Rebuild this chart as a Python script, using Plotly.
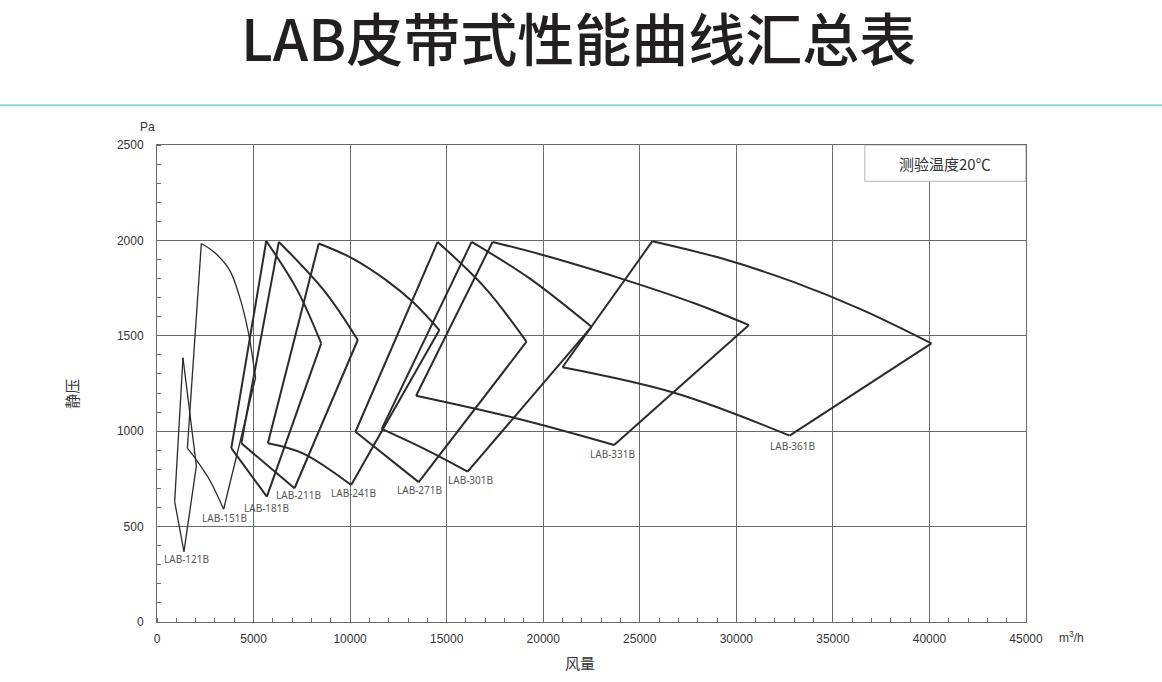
import plotly.graph_objects as go

# ---- data (flow m3/h, static pressure Pa); None separates the edges of each fan envelope ----
models = ["LAB-121B", "LAB-151B", "LAB-181B", "LAB-211B", "LAB-241B",
          "LAB-271B", "LAB-301B", "LAB-331B", "LAB-361B"]

lab121_x = [1345, 915, None, 915, 1396, None, 1396, 2038, None, 2038, 1345]
lab121_y = [1385, 631, None, 631, 369, None, 369, 818, None, 818, 1385]

lab151_x = [2296, 3000, 3760, 4277, 4707, 5105, None, 5105, 3450, None, 3450, 2726, 2038, 1572, None, 1572, 2296]
lab151_y = [1984, 1935, 1844, 1704, 1530, 1279, None, 1279, 591, None, 591, 744, 849, 911, None, 911, 1984]

lab181_x = [5658, 7251, 8503, None, 8503, 5689, None, 5689, 3848, None, 3848, 5658]
lab181_y = [1997, 1742, 1460, None, 1460, 657, None, 657, 911, None, 911, 1997]

lab211_x = [6310, 8673, 10396, None, 10396, 7122, None, 7122, 4365, None, 4365, 6310]
lab211_y = [1992, 1734, 1478, None, 1478, 701, None, 701, 937, None, 937, 1992]

lab241_x = [8378, 10137, 11865, 13240, 14622, None, 14622, 10054, None, 10054, 7551, 5741, None, 5741, 8378]
lab241_y = [1984, 1905, 1792, 1678, 1530, None, 1530, 718, None, 718, 884, 937, None, 937, 1984]

lab271_x = [14533, 17000, 19136, None, 19136, 13551, None, 13551, 10277, None, 10277, 14533]
lab271_y = [1992, 1750, 1469, None, 1469, 733, None, 733, 997, None, 997, 1992]

lab301_x = [16292, 19276, 22498, None, 22498, 16085, None, 16085, 13845, 11637, None, 11637, 16292]
lab301_y = [1992, 1802, 1547, None, 1547, 788, None, 788, 907, 1012, None, 1012, 1992]

lab331_x = [17378, 20309, 24277, 27900, 30654, None, 30654, 23672, None, 23672, 18588, 13416, None, 13416, 17378]
lab331_y = [1992, 1914, 1792, 1668, 1556, None, 1556, 928, None, 928, 1068, 1186, None, 1186, 1992]

lab361_x = [25653, 29268, 32878, 36488, 40104, None, 40104, 32759, None, 32759, 26863, 20998, None, 20998, 25653]
lab361_y = [1996, 1905, 1785, 1637, 1460, None, 1460, 977, None, 977, 1199, 1335, None, 1335, 1996]

series_x = [lab121_x, lab151_x, lab181_x, lab211_x, lab241_x, lab271_x, lab301_x, lab331_x, lab361_x]
series_y = [lab121_y, lab151_y, lab181_y, lab211_y, lab241_y, lab271_y, lab301_y, lab331_y, lab361_y]

label_x = [1546, 3511, 5684, 7329, 10173, 13587, 16225, 23569, 32930]
label_y = [332, 546, 599, 666, 677, 692, 745, 881, 923]

x_ticks = [0, 5000, 10000, 15000, 20000, 25000, 30000, 35000, 40000, 45000]
y_ticks = [0, 500, 1000, 1500, 2000, 2500]

# ---- figure ----
fig = go.Figure()
for i, name in enumerate(models):
    fig.add_trace(go.Scatter(
        x=series_x[i], y=series_y[i], mode="lines", name=name,
        line=dict(color="#2b2b2b", width=1.3 if i < 2 else 2.0, shape="spline", smoothing=1.0),
        connectgaps=False, hoverinfo="skip", showlegend=False,
    ))

for i, name in enumerate(models):
    fig.add_annotation(x=label_x[i], y=label_y[i], text=name, showarrow=False,
                       font=dict(family="Noto Sans, Open Sans, sans-serif", size=10, color="#555555"),
                       xanchor="center", yanchor="middle")

grid_col = "#6a6a6a"
fig.update_xaxes(range=[0, 45000], tickvals=x_ticks, ticktext=[str(v) for v in x_ticks],
                 showgrid=True, gridcolor=grid_col, gridwidth=1, zeroline=False,
                 showline=True, linecolor=grid_col, linewidth=1, mirror=True,
                 ticks="", ticklabelstandoff=6,
                 tickfont=dict(family="Liberation Sans, Arial, sans-serif", size=12, color="#333333"),
                 minor=dict(dtick=1000, ticks="inside", ticklen=4, tickcolor=grid_col, showgrid=False))
fig.update_yaxes(range=[0, 2500], tickvals=y_ticks, ticktext=[str(v) for v in y_ticks],
                 showgrid=True, gridcolor=grid_col, gridwidth=1, zeroline=False,
                 showline=True, linecolor=grid_col, linewidth=1, mirror=True,
                 ticks="", ticklabelstandoff=10,
                 tickfont=dict(family="Liberation Sans, Arial, sans-serif", size=12, color="#333333"),
                 minor=dict(dtick=100, ticks="inside", ticklen=4, tickcolor=grid_col, showgrid=False))

# temperature box
fig.add_shape(type="rect", xref="x", yref="y", x0=36654, x1=45000, y0=2310, y1=2500,
              fillcolor="white", line=dict(color="#b5b5b5", width=1), layer="above")
fig.add_annotation(x=40827, y=2405, xref="x", yref="y", text="测验温度20℃", showarrow=False,
                   xanchor="center", yanchor="middle",
                   font=dict(family="Noto Sans CJK SC", size=15, color="#333333"))

# unit labels and axis titles
fig.add_annotation(xref="paper", yref="paper", x=-0.0107, y=1.037, text="Pa", showarrow=False,
                   xanchor="center", yanchor="middle",
                   font=dict(family="Liberation Sans, Arial, sans-serif", size=12, color="#333333"))
fig.add_annotation(xref="paper", yref="paper", x=1.036, y=-0.031, text="m<sup>3</sup>/h", showarrow=False,
                   xanchor="left", yanchor="middle",
                   font=dict(family="Liberation Sans, Arial, sans-serif", size=12, color="#333333"))
fig.add_annotation(xref="paper", yref="paper", x=-0.098, y=0.478, text="静压", showarrow=False, textangle=-90,
                   xanchor="center", yanchor="middle",
                   font=dict(family="Noto Sans CJK SC", size=15, color="#333333"))
fig.add_annotation(xref="paper", yref="paper", x=0.4866, y=-0.0854, text="风量", showarrow=False,
                   xanchor="center", yanchor="middle",
                   font=dict(family="Noto Sans CJK SC", size=15, color="#333333"))

# teal separator line under the title
fig.add_shape(type="line", xref="paper", yref="paper", x0=-0.2, x1=1.2, y0=1.0835, y1=1.0835,
              line=dict(color="#8fd1d3", width=2))

fig.update_layout(
    width=1162, height=682,
    margin=dict(l=157, r=136, t=145, b=60, autoexpand=False),
    paper_bgcolor="white", plot_bgcolor="white",
    title=dict(text="LAB皮带式性能曲线汇总表", x=0.498, xanchor="center", y=0.94, yanchor="middle",
               font=dict(family="Noto Sans CJK SC", size=57, color="#231f20", weight=500)),
    showlegend=False,
)

fig.write_html("out.html", config={"displayModeBar": False},
               post_script="document.body.style.margin='0';document.body.style.padding='0';")
